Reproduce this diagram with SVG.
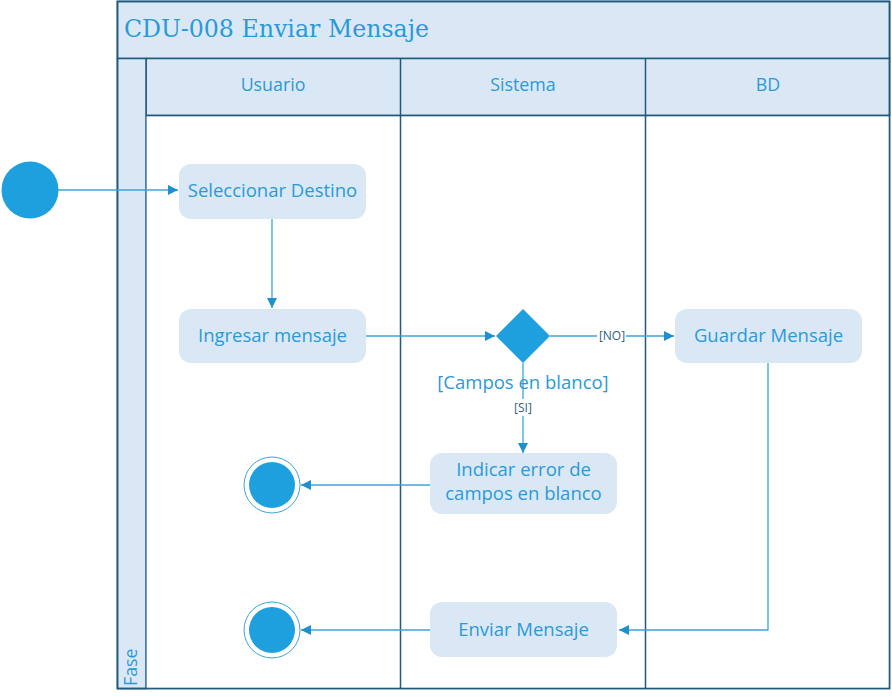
<svg xmlns="http://www.w3.org/2000/svg" width="892" height="697" viewBox="0 0 892 697">
<style>
.band{fill:#dae8f6;stroke:#1f5a7e;stroke-width:1.5}
.lane{fill:none;stroke:#1f5a7e;stroke-width:1.5}
.act{fill:#dae8f6;stroke:none}
.t{font-family:"Open Sans","Noto Sans","DejaVu Sans",sans-serif;fill:#2a9ad6;font-size:18.5px;text-anchor:middle}
.hd{font-family:"Open Sans","Noto Sans","DejaVu Sans",sans-serif;fill:#2a9ad6;font-size:17.8px;text-anchor:middle}
.g{font-family:"Open Sans","Noto Sans","DejaVu Sans",sans-serif;fill:#2c5f80;font-size:12px;text-anchor:middle}
.c{fill:none;stroke:#3ea3d8;stroke-width:1.3}
.solid{fill:#1ea0df}
</style>
<defs>
<marker id="ah" markerWidth="12" markerHeight="12" refX="10" refY="5" orient="auto" markerUnits="userSpaceOnUse">
<path d="M0,0 L10,5 L0,10 Z" fill="#1e90cf"/>
</marker>
</defs>
<rect width="892" height="697" fill="#ffffff"/>
<g id="pool">
<rect class="band" x="117.5" y="1.5" width="772" height="687"/>
<rect class="band" x="117.5" y="1.5" width="772" height="57"/>
<rect class="band" x="146" y="58.5" width="743.5" height="57"/>
<rect class="band" x="117.5" y="58.5" width="28.5" height="630"/>
<rect x="146.75" y="116.25" width="742" height="571.5" fill="#ffffff"/>
<line class="lane" x1="146" y1="115.5" x2="889.5" y2="115.5"/>
<line class="lane" x1="400.5" y1="58.5" x2="400.5" y2="688.5"/>
<line class="lane" x1="645.5" y1="58.5" x2="645.5" y2="688.5"/>
<rect class="lane" x="117.5" y="1.5" width="772" height="687"/>
<text x="124" y="37" font-family="'DejaVu Serif','Liberation Serif',serif" font-size="23.7" fill="#2a9ad6">CDU-008 Enviar Mensaje</text>
<text class="hd" x="273" y="91">Usuario</text>
<text class="hd" x="523" y="91">Sistema</text>
<text class="hd" x="768" y="91">BD</text>
<text class="hd" transform="translate(137,686) rotate(-90)" style="text-anchor:start">Fase</text>
</g>
<g id="connectors">
<line class="c" x1="58" y1="190" x2="178" y2="190" marker-end="url(#ah)"/>
<line class="c" x1="272" y1="219" x2="272" y2="308" marker-end="url(#ah)"/>
<line class="c" x1="366" y1="336" x2="495" y2="336" marker-end="url(#ah)"/>
<line class="c" x1="550" y1="336" x2="597" y2="336"/>
<line class="c" x1="626" y1="336" x2="674" y2="336" marker-end="url(#ah)"/>
<text class="g" x="612" y="340">[NO]</text>
<line class="c" x1="523" y1="363" x2="523" y2="399"/>
<line class="c" x1="523" y1="416" x2="523" y2="453" marker-end="url(#ah)"/>
<text class="g" x="523" y="412">[SI]</text>
<line class="c" x1="430" y1="485" x2="301" y2="485" marker-end="url(#ah)"/>
<polyline class="c" points="768,363 768,630 619,630" marker-end="url(#ah)"/>
<line class="c" x1="430" y1="630" x2="301" y2="630" marker-end="url(#ah)"/>
</g>
<g id="start">
<circle class="solid" cx="30" cy="190" r="28.5"/>
</g>
<g id="seleccionar">
<rect class="act" x="179" y="164" width="187" height="55" rx="12"/>
<text class="t" x="272.5" y="197">Seleccionar Destino</text>
</g>
<g id="ingresar">
<rect class="act" x="179" y="309" width="187" height="54" rx="12"/>
<text class="t" x="272.5" y="342">Ingresar mensaje</text>
</g>
<g id="decision">
<path class="solid" d="M523,309 L550,336 L523,363 L496,336 Z"/>
<text class="t" x="523" y="389">[Campos en blanco]</text>
</g>
<g id="guardar">
<rect class="act" x="675" y="309" width="187" height="54" rx="12"/>
<text class="t" x="768.5" y="342">Guardar Mensaje</text>
</g>
<g id="indicar">
<rect class="act" x="430" y="453" width="187" height="61" rx="12"/>
<text class="t" x="523.5" y="476">Indicar error de</text>
<text class="t" x="523.5" y="500">campos en blanco</text>
</g>
<g id="enviar">
<rect class="act" x="430" y="602" width="187" height="55" rx="12"/>
<text class="t" x="523.5" y="636">Enviar Mensaje</text>
</g>
<g id="end1">
<circle cx="272" cy="485" r="28" fill="#ffffff" stroke="#3ea3d8" stroke-width="1"/>
<circle class="solid" cx="272" cy="485" r="23"/>
</g>
<g id="end2">
<circle cx="272" cy="630" r="28" fill="#ffffff" stroke="#3ea3d8" stroke-width="1"/>
<circle class="solid" cx="272" cy="630" r="23"/>
</g>
</svg>
